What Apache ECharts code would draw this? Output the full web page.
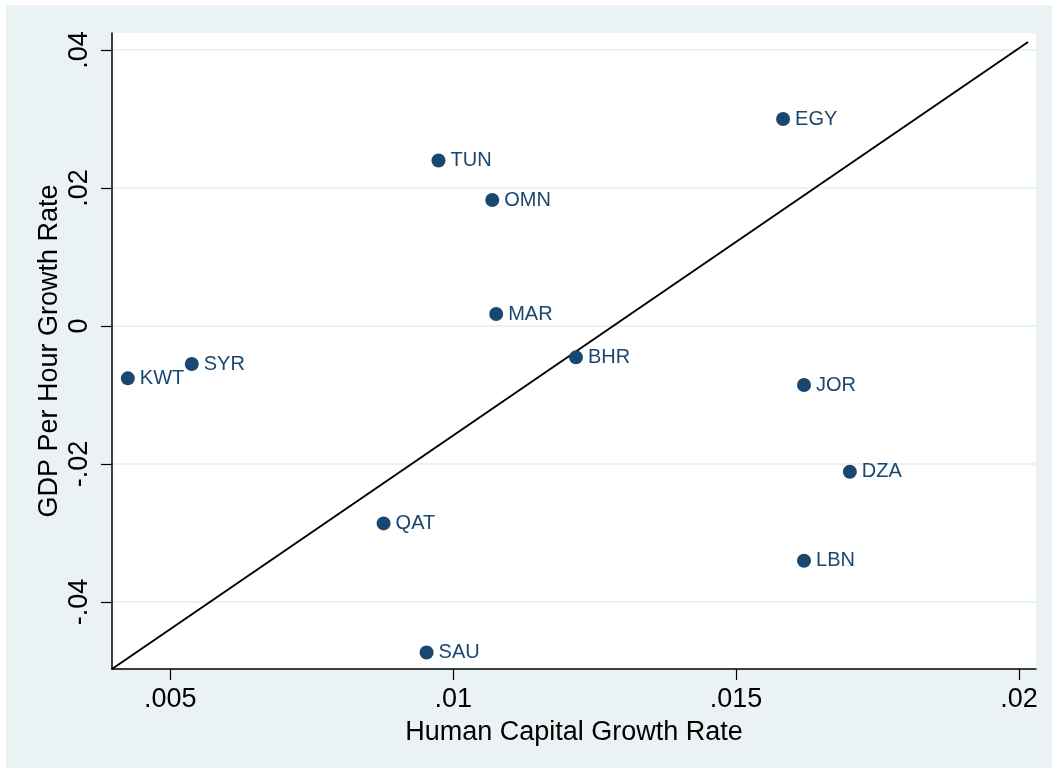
<!DOCTYPE html>
<html>
<head>
<meta charset="utf-8">
<script src="https://cdn.jsdelivr.net/npm/echarts@6/dist/echarts.min.js"></script>
<style>
  html, body { margin: 0; padding: 0; background: #ffffff; }
  #chart { position: absolute; left: 6px; top: 5px; width: 1046px; height: 763px; }
</style>
</head>
<body>
<div id="chart"></div>
<script>
// Country codes with human capital growth (x) and GDP per hour growth (y)
const countries = ['KWT', 'SYR', 'TUN', 'OMN', 'MAR', 'BHR', 'EGY', 'JOR', 'DZA', 'LBN', 'QAT', 'SAU'];
const humanCapitalGrowth = [0.00425, 0.00538, 0.00974, 0.01069, 0.01076, 0.01217, 0.01583, 0.01620, 0.01701, 0.01620, 0.00877, 0.00953];
const gdpPerHourGrowth = [-0.00758, -0.00551, 0.02399, 0.01826, 0.00174, -0.00454, 0.03000, -0.00855, -0.02111, -0.03401, -0.02860, -0.04730];

// Fitted line end points
const fitX = [0.00397, 0.02016];
const fitY = [-0.0497, 0.04116];

// Axis tick values
const xTicks = [0.005, 0.01, 0.015, 0.02];
const yTicks = [-0.04, -0.02, 0, 0.02, 0.04];

const navy = '#1a476f';
const bg = '#eaf2f3';

function fmt(v) {
  if (Math.abs(v) < 1e-12) return '0';
  const s = String(+v.toFixed(4));
  return s.replace(/^(-?)0\./, '$1.');
}

const chart = echarts.init(document.getElementById('chart'), null, { renderer: 'canvas' });

const option = {
  backgroundColor: bg,
  animation: false,
  textStyle: { fontFamily: 'Liberation Sans, Arial, sans-serif' },
  grid: {
    left: 106, top: 28, width: 924, height: 636,
    show: true, backgroundColor: '#ffffff', borderWidth: 0,
    containLabel: false
  },
  xAxis: {
    type: 'value',
    min: 0.00397, max: 0.0203,
    name: 'Human Capital Growth Rate',
    nameLocation: 'middle',
    nameGap: 50,
    nameMoveOverlap: false,
    nameTextStyle: { fontSize: 27, color: '#000' },
    axisLine: { show: true, onZero: false, lineStyle: { color: '#000', width: 1.5 } },
    axisTick: { show: true, length: 11, customValues: xTicks, lineStyle: { color: '#000', width: 1.2 } },
    axisLabel: { show: true, customValues: xTicks, formatter: fmt, fontSize: 27, color: '#000', margin: 17 },
    splitLine: { show: false }
  },
  yAxis: {
    type: 'value',
    min: -0.0497, max: 0.04246,
    name: 'GDP Per Hour Growth Rate',
    nameLocation: 'middle',
    nameGap: 49,
    nameMoveOverlap: false,
    nameTextStyle: { fontSize: 27, color: '#000' },
    axisLine: { show: true, onZero: false, lineStyle: { color: '#000', width: 1.5 } },
    axisTick: { show: true, length: 11, customValues: yTicks, lineStyle: { color: '#000', width: 1.2 } },
    axisLabel: { show: true, customValues: yTicks, formatter: fmt, fontSize: 27, color: '#000', rotate: 90, margin: 19 },
    splitLine: { show: true, lineStyle: { color: bg, width: 2 } }
  },
  series: [
    {
      type: 'line',
      data: fitX.map((x, i) => [x, fitY[i]]),
      showSymbol: false,
      silent: true,
      lineStyle: { color: '#000', width: 2 },
      z: 2
    },
    {
      type: 'scatter',
      data: countries.map((c, i) => [humanCapitalGrowth[i], gdpPerHourGrowth[i], c]),
      symbolSize: 14,
      itemStyle: { color: navy, opacity: 1 },
      label: {
        show: true,
        position: 'right',
        distance: 5,
        formatter: p => p.data[2],
        fontSize: 20,
        color: navy
      },
      z: 3
    }
  ]
};

chart.setOption(option);
</script>
</body>
</html>
